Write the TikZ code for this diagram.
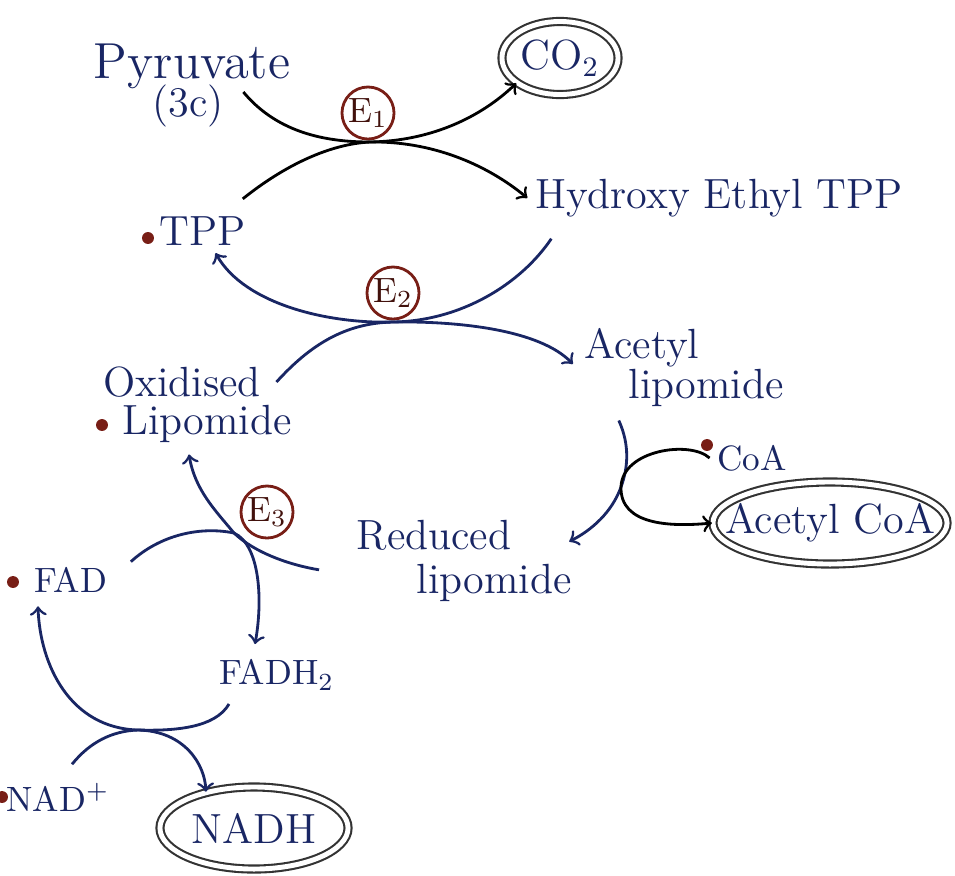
\documentclass[tikz,border=0pt]{standalone}
\usepackage{amsmath}
\usepackage{tikz}
\usetikzlibrary{arrows,shapes,positioning}

\definecolor{ink}{RGB}{25,38,100}
\definecolor{enz}{RGB}{120,30,22}

\begin{document}
\begin{tikzpicture}[x=0.01cm, y=-0.01cm,
    lbl/.style={text=ink, font=\large, inner sep=2pt},
    lblsm/.style={text=ink, font=\normalsize, inner sep=2pt},
    enzyme/.style={circle, draw=enz, thick, minimum size=0.52cm, inner sep=0pt, text=enz!55!black},
    prod/.style={ellipse, draw=black!80, double, double distance=1.4pt, semithick, text=ink, font=\large, inner sep=0pt},
    spot/.style={fill=enz, circle, inner sep=1.2pt},
    arr/.style={->, thick, draw=ink},
    arrk/.style={->, thick, draw=black}]
            \useasboundingbox (0,0) rectangle (955,875);

            % E1: pyruvate decarboxylation
            \node[lbl, font=\Large] (pyr) at (192,66) {Pyruvate};
            \node[lbl] (pyrc) at (188,106) {(3c)};
            \node[prod, minimum width=1.16cm, minimum height=0.73cm] (co2) at (560,58) {CO$_2$};
            \node[enzyme] (e1) at (368,113) {E$_1$};
            \node[lbl] (hetpp) at (719,198) {Hydroxy Ethyl TPP};
            \node[spot] (tppdot) at (148,238) {};
            \node[lbl] (tpp) at (203,231) {TPP};
            \coordinate (x1) at (370,142);

            \draw[arrk] ([shift={(12,-14)}]pyrc.east) .. controls (275,130) and (320,142) .. (x1) .. controls (430,141) and (480,118) .. (co2.210);
            \draw[arrk] ([shift={(-11,-10)}]tpp.north east) .. controls (285,165) and (330,144) .. (x1) .. controls (430,141) and (485,163) .. (hetpp.west);

            % E2: transfer to lipomide
            \node[enzyme] (e2) at (393,293) {E$_2$};
            \node[lbl] (oxd) at (182,382) {Oxidised};
            \node[spot] (lipdot) at (102,425) {};
            \node[lbl] (lipo) at (207,424) {Lipomide};
            \node[lbl] (acetyl) at (642,348) {Acetyl};
            \node[lbl] (acl) at (706,388) {lipomide};
            \coordinate (x2) at (393,322);

            \draw[arr] ([shift={(24,14)}]hetpp.south west) .. controls (520,285) and (460,321) .. (x2) .. controls (330,324) and (245,305) .. (tpp);
            \draw[arr] ([shift={(8,0)}]oxd.east) .. controls (310,345) and (345,323) .. (x2) .. controls (460,321) and (540,330) .. ([shift={(-4,16)}]acetyl.west);

            % acetyl CoA leaves
            \node[spot] (coadot) at (707,445) {};
            \node[lblsm] (coa) at (752,458) {CoA};
            \node[prod, inner xsep=-7pt, minimum width=2.34cm, minimum height=0.82cm] (acoa) at (830,523) {Acetyl CoA};
            \node[lbl] (red) at (434,535) {Reduced};
            \node[lbl] (redl) at (494,583) {lipomide};
            \coordinate (x3) at (621,487);

            \draw[arr] ([shift={(-2,6)}]acl.south west) .. controls (630,445) and (628,468) .. (x3) .. controls (612,512) and (592,530) .. ([shift={(-10,-15)}]redl.north east);
            \draw[arrk] (coa.west) .. controls (690,440) and (622,450) .. (x3) .. controls (620,525) and (670,527) .. (acoa.west);

            % E3: lipomide back to oxidised form
            \node[enzyme] (e3) at (267,512) {E$_3$};
            \node[spot] (faddot) at (13,582) {};
            \node[lblsm] (fad) at (71,580) {FAD};
            \node[lblsm] (fadh) at (277,675) {FADH$_2$};
            \coordinate (x4) at (234,533);

            \draw[arr] ([shift={(-30,12)}]red.south west) .. controls (290,565) and (255,553) .. (x4) .. controls (215,510) and (195,490) .. ([shift={(-18,4)}]lipo.south);
            \draw[arr] ([shift={(16,2)}]fad.north east) .. controls (160,535) and (200,526) .. (x4) .. controls (260,545) and (263,600) .. ([shift={(-22,-8)}]fadh.north);

            % NAD+ takes the hydrogens
            \node[spot] (naddot) at (2,797) {};
            \node[lblsm] (nad) at (58,797) {NAD$^+$};
            \node[prod, minimum width=1.88cm, minimum height=0.82cm] (nadh) at (254,828) {NADH};
            \coordinate (x5) at (138,730);

            \draw[arr] ([shift={(17,6)}]fadh.south west) .. controls (215,728) and (175,731) .. (x5) .. controls (70,728) and (40,665) .. ([shift={(-33,6)}]fad.south);
            \draw[arr] ([shift={(14,-11)}]nad.north) .. controls (90,742) and (112,731) .. (x5) .. controls (185,731) and (205,765) .. (nadh.143);
        \end{tikzpicture}
\end{document}
